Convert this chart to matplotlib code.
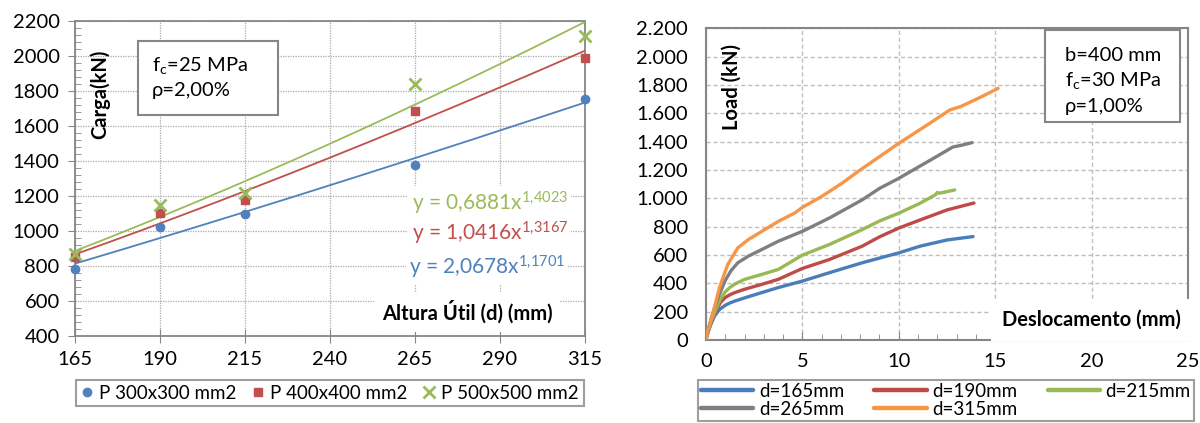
import numpy as np
import matplotlib
matplotlib.use('Agg')
import matplotlib.pyplot as plt
from matplotlib.patches import Rectangle
from matplotlib.ticker import MultipleLocator, FuncFormatter

plt.rcParams['font.family'] = ['Lato', 'DejaVu Sans']
plt.rcParams['mathtext.fontset'] = 'custom'
plt.rcParams['mathtext.rm'] = 'Lato'
plt.rcParams['mathtext.it'] = 'Lato'

# --- Left chart data: load vs effective depth ---
d_values = [165, 190, 215, 265, 315]
p_300 = [785, 1025, 1095, 1375, 1755]
p_400 = [850, 1100, 1175, 1685, 1985]
p_500 = [870, 1150, 1215, 1840, 2110]
fit_a = [2.0678, 1.0416, 0.6881]
fit_b = [1.1701, 1.3167, 1.4023]
fit_text = ['2,0678', '1,0416', '0,6881']
fit_exp = ['1{,}1701', '1{,}3167', '1{,}4023']
left_labels = ['P 300x300 mm2', 'P 400x400 mm2', 'P 500x500 mm2']

# --- Right chart data: load vs displacement curves ---
x_165 = [0, 0.05, 0.25, 0.45, 0.7, 1.0, 1.25, 1.5, 2.0, 2.9, 3.75, 5.0, 6.4, 8.1, 9.0, 10.0, 11.1, 12.5, 13.85]
y_165 = [0, 30, 110, 170, 215, 245, 262, 275, 297, 335, 370, 416, 475, 545, 578, 615, 662, 706, 730]
x_190 = [0, 0.05, 0.25, 0.45, 0.75, 1.0, 1.25, 1.5, 2.0, 2.9, 3.75, 5.0, 6.4, 8.1, 9.0, 10.0, 11.1, 12.5, 13.9]
y_190 = [0, 30, 120, 185, 265, 300, 320, 335, 358, 393, 428, 505, 568, 662, 728, 790, 847, 918, 967]
x_215 = [0, 0.05, 0.25, 0.45, 0.75, 1.0, 1.25, 1.5, 2.0, 2.9, 3.75, 5.0, 6.4, 8.1, 9.0, 10.0, 11.1, 11.9, 12.0, 12.1, 12.9]
y_215 = [0, 30, 125, 195, 290, 340, 372, 395, 428, 463, 498, 599, 674, 779, 840, 895, 965, 1025, 1042, 1036, 1059]
x_265 = [0, 0.05, 0.25, 0.45, 0.7, 1.0, 1.3, 1.65, 2.2, 2.9, 3.75, 5.0, 6.4, 8.1, 9.0, 10.0, 10.75, 12.1, 12.8, 13.3, 13.8]
y_265 = [0, 35, 140, 230, 323, 420, 490, 545, 592, 639, 697, 767, 861, 989, 1070, 1141, 1200, 1306, 1362, 1376, 1393]
x_315 = [0, 0.05, 0.35, 0.7, 1.13, 1.65, 2.2, 2.9, 3.75, 4.6, 5.0, 6.0, 7.05, 8.0, 9.0, 10.0, 11.6, 12.65, 13.2, 14.2, 15.15]
y_315 = [0, 42, 182, 370, 533, 650, 709, 767, 837, 896, 936, 1013, 1106, 1200, 1294, 1388, 1529, 1624, 1647, 1711, 1776]
right_labels = ['d=165mm', 'd=190mm', 'd=215mm', 'd=265mm', 'd=315mm']

left_colors = ['#4F81BD', '#C0504D', '#9BBB59']
right_colors = ['#4A7EBB', '#BE4B48', '#98B954', '#7F7F7F', '#F79646']
frame_gray = '#868686'
fs = 14.5

fig = plt.figure(figsize=(12, 4.23), dpi=100)

# --- Left chart ---
ax1 = fig.add_axes([0.0625, 0.2057, 0.425, 0.7454])
ax1.set_axisbelow(True)
ax1.set_xlim(165, 315)
ax1.set_ylim(400, 2200)
ax1.set_xticks(range(165, 316, 25))
ax1.set_yticks(range(400, 2201, 200))
ax1.yaxis.set_minor_locator(MultipleLocator(40))
ax1.grid(True, color='#ababab', linewidth=0.9, linestyle=(0, (1, 1)))
for s in ax1.spines.values():
    s.set_color(frame_gray)
    s.set_linewidth(1.3)
ax1.tick_params(axis='both', which='major', labelsize=fs, colors=frame_gray, labelcolor='black')
ax1.tick_params(axis='x', which='major', direction='inout', length=10, pad=6)
ax1.tick_params(axis='y', which='major', direction='out', length=5, pad=6)
ax1.tick_params(axis='y', which='minor', direction='in', length=4, colors=frame_gray)

xs = np.linspace(165, 315, 200)
markers = [dict(marker='o', ms=6), dict(marker='s', ms=5.5), dict(marker='x', ms=8.5, mew=2)]
handles = []
for vals, col, mk, lab, a, b in zip([p_300, p_400, p_500], left_colors, markers, left_labels, fit_a, fit_b):
    ax1.plot(xs, a * xs ** b, color=col, lw=1.3, zorder=3)
    h, = ax1.plot(d_values, vals, linestyle='none', color=col, label=lab, zorder=4,
                  clip_on=False, **mk)
    handles.append(h)

eq_y = [794, 988, 1159]
eq_x = [263.3, 264.0, 264.0]
for col, a_txt, b_txt, ex, ey in zip(left_colors, fit_text, fit_exp, eq_x, eq_y):
    ax1.text(ex, ey, 'y = ' + a_txt + 'x$^{\\mathrm{' + b_txt + '}}$', color=col, fontsize=15,
             ha='left', va='center', zorder=5,
             bbox=dict(boxstyle='square,pad=0.15', fc='white', ec='none'))

ax1.add_patch(Rectangle((183.5, 1661), 41.2, 424.5, facecolor='white', edgecolor=frame_gray,
                        linewidth=1.5, zorder=5))
ax1.text(187.5, 1947, 'f$_\\mathrm{c}$=25 MPa', fontsize=fs, va='center', ha='left', zorder=6)
ax1.text(187.5, 1800, 'ρ=2,00%', fontsize=fs, va='center', ha='left', zorder=6)
ax1.text(172.4, 1781, 'Carga(kN)', fontsize=fs, fontweight='bold', rotation=90,
         ha='center', va='center', zorder=6)
ax1.text(280.3, 537, 'Altura Útil (d) (mm)', fontsize=fs, fontweight='bold', ha='center',
         va='center', zorder=5, bbox=dict(boxstyle='square,pad=0.4', fc='white', ec='none'))

leg1 = fig.legend(handles=handles, loc='center', bbox_to_anchor=(0.2746, 0.0709), ncol=3,
                  fontsize=13.5, frameon=True, fancybox=False, edgecolor=frame_gray,
                  handlelength=0.7, handletextpad=0.3, columnspacing=0.8, borderpad=0.25,
                  borderaxespad=0)
leg1.get_frame().set_linewidth(1.5)

# --- Right chart ---
ax2 = fig.add_axes([0.5883, 0.1962, 0.4017, 0.7369])
ax2.set_axisbelow(True)
ax2.set_xlim(0, 25)
ax2.set_ylim(0, 2200)
ax2.set_xticks(range(0, 26, 5))
ax2.set_yticks(range(0, 2201, 200))
ax2.xaxis.set_minor_locator(MultipleLocator(1))
ax2.yaxis.set_major_formatter(FuncFormatter(lambda v, p: f'{int(v):,}'.replace(',', '.')))
ax2.grid(True, color='#bdbdbd', linewidth=1, linestyle=(0, (3, 2)))
for s in ax2.spines.values():
    s.set_color(frame_gray)
    s.set_linewidth(1.5)
ax2.tick_params(axis='both', which='major', labelsize=fs, colors=frame_gray, labelcolor='black')
ax2.tick_params(axis='y', which='major', length=0, pad=13)
ax2.tick_params(axis='x', which='major', direction='in', length=6, pad=9)
ax2.tick_params(axis='x', which='minor', direction='in', length=4, colors=frame_gray)

curves = [(x_165, y_165), (x_190, y_190), (x_215, y_215), (x_265, y_265), (x_315, y_315)]
lines = []
for (cx, cy), col, lab in zip(curves, right_colors, right_labels):
    ln, = ax2.plot(cx, cy, color=col, lw=2.4, label=lab, solid_capstyle='round',
                   solid_joinstyle='round', zorder=3)
    lines.append(ln)

ax2.add_patch(Rectangle((17.58, 1538), 7.0, 650, facecolor='white', edgecolor=frame_gray,
                        linewidth=1.5, zorder=5))
ax2.text(18.62, 2011, 'b=400 mm', fontsize=fs, va='center', ha='left', zorder=6)
ax2.text(18.62, 1835, 'f$_\\mathrm{c}$=30 MPa', fontsize=fs, va='center', ha='left', zorder=6)
ax2.text(18.62, 1651, 'ρ=1,00%', fontsize=fs, va='center', ha='left', zorder=6)
ax2.text(1.33, 1785, 'Load (kN)', fontsize=fs, fontweight='bold', rotation=90,
         ha='center', va='center', zorder=6)
ax2.text(20.0, 141, 'Deslocamento (mm)', fontsize=fs, fontweight='bold', ha='center',
         va='center', zorder=5, bbox=dict(boxstyle='square,pad=0.55', fc='white', ec='none'))

# reorder so legend fills row by row
order = [0, 3, 1, 4, 2]
leg2 = fig.legend(handles=[lines[i] for i in order], loc='upper left',
                  bbox_to_anchor=(0.5817, 0.1017), ncol=3, fontsize=13.5, frameon=True,
                  fancybox=False, edgecolor=frame_gray, handlelength=2.8, handletextpad=0.3,
                  columnspacing=1.6, labelspacing=0.05, borderpad=0.15, borderaxespad=0)
leg2.get_frame().set_linewidth(1.5)
for h in leg2.legend_handles:
    h.set_linewidth(3.2)

fig.savefig('out.png', dpi=100)
